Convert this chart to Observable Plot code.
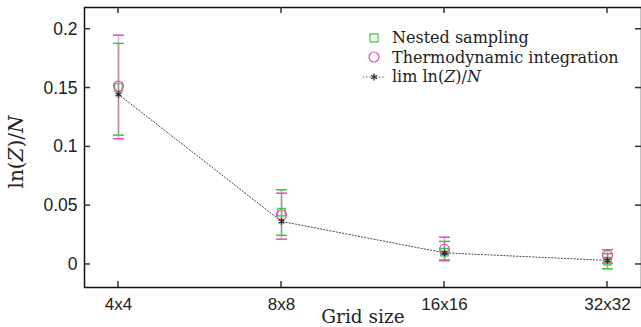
<!DOCTYPE html>
<html>
<head>
<meta charset="utf-8">
<script src="https://cdn.jsdelivr.net/npm/d3@7"></script>
<script src="https://cdn.jsdelivr.net/npm/@observablehq/plot@0.6"></script>
<style>
  html, body { margin: 0; padding: 0; background: #fff; }
  #wrap { position: relative; width: 641px; height: 327px; }
  #legend { position: absolute; left: 362px; top: 28px; font-family: "DejaVu Serif", serif; font-size: 16px; color: #222; }
  #legend .row { display: flex; align-items: center; height: 19.5px; white-space: nowrap; }
  #legend svg { width: 24px; height: 16px; margin-right: 6px; }
</style>
</head>
<body>
<div id="wrap"><div id="legend"></div></div>
<script>
const categories = ["4x4", "8x8", "16x16", "32x32"];
const nestedValues = [0.1505, 0.0445, 0.0105, 0.0028];
const nestedLow = [0.110, 0.0247, 0.0031, -0.0037];
const nestedHigh = [0.188, 0.0635, 0.0196, 0.0092];
const thermoValues = [0.1517, 0.0422, 0.0128, 0.0077];
const thermoLow = [0.1069, 0.0215, 0.0038, 0.0012];
const thermoHigh = [0.195, 0.0606, 0.0232, 0.0125];
const limValues = [0.1446, 0.0366, 0.0099, 0.0034];
const seriesNames = ["Nested sampling", "Thermodynamic integration", "lim ln(Z)/N"];
const yTicks = [0, 0.05, 0.1, 0.15, 0.2];
const yTickLabels = ["0", "0.05", "0.1", "0.15", "0.2"];

const GREEN = "#2ecc2e";
const PINK = "#ec48b8";
const DARK = "#333333";

const capSymbol = {
  draw(context, size) {
    const r = Math.sqrt(size / Math.PI);
    context.moveTo(-r, 0);
    context.lineTo(r, 0);
  }
};

const nested = categories.map((c, i) => ({c, v: nestedValues[i], lo: nestedLow[i], hi: nestedHigh[i]}));
const thermo = categories.map((c, i) => ({c, v: thermoValues[i], lo: thermoLow[i], hi: thermoHigh[i]}));
const lim = categories.map((c, i) => ({c, v: limValues[i]}));

const chart = Plot.plot({
  width: 641,
  height: 327,
  marginLeft: 84,
  marginRight: 0,
  marginTop: 7,
  marginBottom: 40,
  style: {fontFamily: "'Liberation Sans', Arial, sans-serif", fontSize: "17.5px", color: "#222", background: "#fff"},
  x: {type: "point", domain: categories, padding: 0.2},
  y: {domain: [-0.0196, 0.2185]},
  marks: [
    Plot.axisY(yTicks, {anchor: "left", tickSize: 0, tickPadding: 7, tickFormat: d => yTickLabels[yTicks.indexOf(d)], label: null}),
    Plot.axisX(categories, {anchor: "bottom", tickSize: 0, tickPadding: 10, label: null, fontSize: 17}),
    Plot.ruleX(nested, {x: "c", y1: "lo", y2: "hi", stroke: GREEN, strokeWidth: 1.5, strokeOpacity: 0.7}),
    Plot.ruleX(thermo, {x: "c", y1: "lo", y2: "hi", stroke: PINK, strokeWidth: 1.5, strokeOpacity: 0.5}),
    Plot.dot(nested, {x: "c", y: "lo", symbol: capSymbol, r: 5.5, stroke: GREEN, strokeWidth: 1.5}),
    Plot.dot(nested, {x: "c", y: "hi", symbol: capSymbol, r: 5.5, stroke: GREEN, strokeWidth: 1.5}),
    Plot.dot(thermo, {x: "c", y: "lo", symbol: capSymbol, r: 5.5, stroke: PINK, strokeWidth: 1.5}),
    Plot.dot(thermo, {x: "c", y: "hi", symbol: capSymbol, r: 5.5, stroke: PINK, strokeWidth: 1.5}),
    Plot.line(lim, {x: "c", y: "v", stroke: "#444", strokeWidth: 1, strokeDasharray: "1.2,2"}),
    Plot.dot(nested, {x: "c", y: "v", symbol: "square", r: 4.2, stroke: GREEN, strokeWidth: 1.2}),
    Plot.dot(thermo, {x: "c", y: "v", symbol: "circle", r: 5, stroke: PINK, strokeWidth: 1.2}),
    Plot.dot(lim, {x: "c", y: "v", symbol: "asterisk", r: 3.2, stroke: DARK, strokeWidth: 1.5}),
    Plot.frame({stroke: "#111", strokeWidth: 1.5})
  ]
});

// inward ticks on all four sides, placed with Plot's own scales
const svg = d3.select(chart);
const xs = chart.scale("x"), ys = chart.scale("y");
const [x0, x1] = xs.range, [y0, y1] = ys.range;
const tg = svg.append("g").attr("stroke", "#333").attr("stroke-width", 1.5);
const TL = 6;
for (const v of yTicks) {
  const py = ys.apply(v);
  tg.append("line").attr("x1", x0).attr("x2", x0 + TL).attr("y1", py).attr("y2", py);
  tg.append("line").attr("x1", x1).attr("x2", x1 - TL).attr("y1", py).attr("y2", py);
}
for (const c of categories) {
  const px = xs.apply(c);
  tg.append("line").attr("x1", px).attr("x2", px).attr("y1", y0).attr("y2", y0 - TL);
  tg.append("line").attr("x1", px).attr("x2", px).attr("y1", y1).attr("y2", y1 + TL);
}

const yl = svg.append("text")
  .attr("transform", "translate(23,152) rotate(-90)")
  .attr("text-anchor", "middle")
  .attr("font-family", "'DejaVu Serif', serif")
  .attr("font-size", 20)
  .attr("fill", "#222");
yl.append("tspan").text("ln(");
yl.append("tspan").attr("font-style", "italic").text("Z");
yl.append("tspan").text(")/");
yl.append("tspan").attr("font-style", "italic").text("N");
svg.append("text")
  .attr("x", (x0 + x1) / 2 + 0.5)
  .attr("y", 323)
  .attr("text-anchor", "middle")
  .attr("font-family", "'DejaVu Serif', serif")
  .attr("font-size", 18.5)
  .attr("fill", "#222")
  .text("Grid size");

document.getElementById("wrap").prepend(chart);

const legend = d3.select("#legend");
const r0 = legend.append("div").attr("class", "row");
r0.append("svg").attr("viewBox", "0 0 24 16").html(`<rect x="8" y="4" width="8" height="8" fill="none" stroke="${GREEN}" stroke-width="1.2"/>`);
r0.append("span").text(seriesNames[0]);
const r1 = legend.append("div").attr("class", "row");
r1.append("svg").attr("viewBox", "0 0 24 16").html(`<circle cx="12" cy="8" r="5" fill="none" stroke="${PINK}" stroke-width="1.2"/>`);
r1.append("span").text(seriesNames[1]);
const r2 = legend.append("div").attr("class", "row");
r2.append("svg").attr("viewBox", "0 0 24 16").html(`<line x1="1" y1="8" x2="23" y2="8" stroke="#444" stroke-dasharray="1.2,2"/><path d="M12,4.5V11.5M9,6.2L15,9.8M9,9.8L15,6.2" stroke="${DARK}" stroke-width="1.3"/>`);
const s2 = r2.append("span");
s2.append("span").text("lim ln(");
s2.append("i").text("Z");
s2.append("span").text(")/");
s2.append("i").text("N");
</script>
</body>
</html>
